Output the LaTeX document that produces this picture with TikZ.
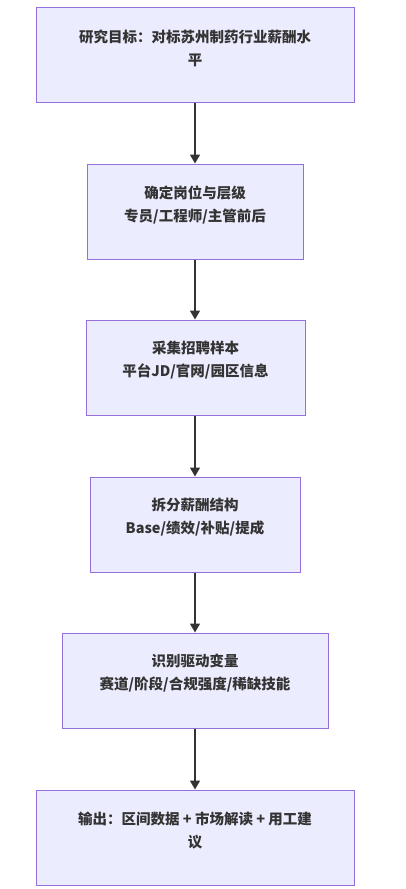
\documentclass[tikz,border=0pt]{standalone}
\usepackage{fontspec}
\setmainfont{Noto Sans CJK SC}
\usetikzlibrary{arrows.meta}
\definecolor{boxfill}{HTML}{ECECFF}
\definecolor{boxline}{HTML}{9370DB}
\definecolor{arrowc}{HTML}{333333}
\begin{document}
\begin{tikzpicture}[x=1pt,y=-1pt,
  box/.style={draw=boxline,fill=boxfill,line width=1pt,rectangle,minimum height=95pt,inner sep=0pt},
  lbl/.style={align=center,font=\fontsize{14.5}{23}\selectfont\bfseries,text=arrowc,inner sep=0pt},
  flow/.style={draw=arrowc,line width=1.5pt,-{Triangle[length=9pt,width=10pt]}}]
\useasboundingbox (0,0) rectangle (405,889);
\node[box,minimum width=318pt] (b1) at (195,55) {};
\node[box,minimum width=216pt] (b2) at (195,211.5) {};
\node[box,minimum width=219pt] (b3) at (195.5,367.5) {};
\node[box,minimum width=210pt] (b4) at (195,524.5) {};
\node[box,minimum width=266pt] (b5) at (195,680.5) {};
\node[box,minimum width=318pt] (b6) at (195,837.5) {};
\node[lbl] (t1) at (195,48.5) {研究目标：对标苏州制药行业薪酬水\\平};
\node[lbl] (t2) at (195,204.5) {确定岗位与层级\\专员/工程师/主管前后};
\node[lbl] (t3) at (195.5,360.5) {采集招聘样本\\平台JD/官网/园区信息};
\node[lbl] (t4) at (195,517.5) {拆分薪酬结构\\Base/绩效/补贴/提成};
\node[lbl] (t5) at (195,673.5) {识别驱动变量\\赛道/阶段/合规强度/稀缺技能};
\node[lbl] (t6) at (195,830.5) {输出：区间数据 + 市场解读 + 用工建\\议};
\draw[flow] (b1.south -| 195,0) -- (b2.north -| 195,0);
\draw[flow] (b2.south -| 195,0) -- (b3.north -| 195,0);
\draw[flow] (b3.south -| 195,0) -- (b4.north -| 195,0);
\draw[flow] (b4.south -| 195,0) -- (b5.north -| 195,0);
\draw[flow] (b5.south -| 195,0) -- (b6.north -| 195,0);
\end{tikzpicture}
\end{document}
